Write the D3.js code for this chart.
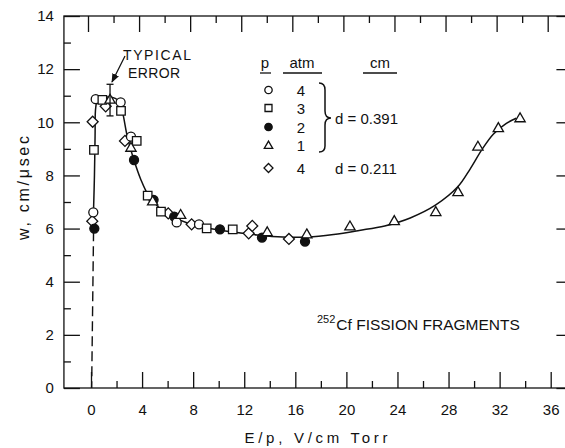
<!DOCTYPE html>
<html><head><meta charset="utf-8">
<script src="https://cdn.jsdelivr.net/npm/d3@7/dist/d3.min.js"></script>
<style>body{margin:0;background:#fff}svg{display:block}</style>
</head><body>
<svg id="c" width="565" height="448"></svg>
<script>
// ---- data ----
const xTicks = [0,4,8,12,16,20,24,28,32,36];
const xMinorTicks = [2,6,10,14,18,22,26,30,34];
const yTicks = [0,2,4,6,8,10,12,14];
const yMinorTicks = [1,3,5,7,9,11,13];

// p = 4 atm, d = 0.391 (open circles)
const circle4 = [[0.18,6.61],[0.37,10.87],[2.32,10.75],[3.13,9.46],[6.71,6.23],[8.46,6.16]];
// p = 3 atm, d = 0.391 (open squares)
const square3 = [[0.23,8.96],[0.89,10.84],[2.35,10.43],[3.58,9.3],[4.44,7.24],[5.48,6.64],[9.06,6.01],[11.1,5.97]];
// p = 2 atm, d = 0.391 (filled circles)
const filled2 = [[0.26,6.0],[3.37,8.58],[4.9,7.08],[6.52,6.45],[10.1,5.97],[13.39,5.66],[16.76,5.51]];
// p = 1 atm, d = 0.391 (open triangles)
const triangle1 = [[1.49,10.87],[3.13,9.06],[4.83,7.04],[7.02,6.53],[13.8,5.88],[16.9,5.8],[20.28,6.1],[23.75,6.3],[27.0,6.64],[28.74,7.39],[30.3,9.1],[31.9,9.8],[33.6,10.17]];
// p = 4 atm, d = 0.211 (open diamonds)
const diamond4 = [[0.1,6.28],[0.13,10.02],[1.15,10.6],[2.66,9.3],[6.05,6.57],[7.88,6.16],[12.35,5.82],[12.63,6.1],[15.5,5.61]];

// hand-drawn fitted curve
const fitCurve = [[0.2,6.7],[0.27,8.0],[0.32,9.5],[0.37,10.55],[0.55,10.88],[1.2,10.95],[1.9,10.9],[2.3,10.75],[2.55,10.2],[2.85,9.45],[3.35,8.6],[3.9,7.85],[4.5,7.25],[5.3,6.8],[6.3,6.47],[7.5,6.22],[9,6.03],[11,5.88],[13,5.76],[15,5.68],[17,5.68],[19,5.78],[21,5.93],[23,6.1],[25,6.4],[27,6.89],[28.74,7.58],[29.7,8.25],[30.6,8.96],[31.5,9.55],[32.5,9.95],[33.3,10.15]];
// dashed extrapolation to the origin
const dashLine = [[0.2,5.9],[0.05,0]];
// typical error bar
const errorBar = {x:1.49, lo:10.24, hi:11.43};

const legendRows = [
  {sym:"circle", fill:"#fff", p:"4"},
  {sym:"square", fill:"#fff", p:"3"},
  {sym:"circle", fill:"#111", p:"2"},
  {sym:"triangle", fill:"#fff", p:"1"},
  {sym:"diamond", fill:"#fff", p:"4"}
];

// ---- drawing ----
const svg = d3.select("#c");
const FONT = "'Liberation Sans', Arial, sans-serif";
const INK = "#111";

const x = d3.scaleLinear().domain([0,36]).range([91,550.7]);
const y = d3.scaleLinear().domain([0,14]).range([388,16]);
const xLo = -2.12, xHi = 37.7;

// frame
svg.append("rect").attr("x",x(xLo)).attr("y",y(14))
  .attr("width",x(xHi)-x(xLo)).attr("height",y(0)-y(14))
  .attr("fill","none").attr("stroke",INK).attr("stroke-width",1.3);

function styleAxis(g){
  g.select(".domain").remove();
  g.selectAll(".tick line").attr("stroke",INK).attr("stroke-width",1.3);
  g.selectAll("text").attr("font-family",FONT).attr("font-size",15).attr("fill",INK);
}
// bottom
svg.append("g").attr("transform",`translate(0,${y(0)})`)
  .call(d3.axisBottom(x).tickValues(xTicks).tickSizeInner(-16).tickSizeOuter(0).tickPadding(16).tickFormat(d3.format("d")))
  .call(styleAxis);
svg.append("g").attr("transform",`translate(0,${y(0)})`)
  .call(d3.axisBottom(x).tickValues(xMinorTicks).tickSizeInner(-7).tickSizeOuter(0).tickFormat(""))
  .call(styleAxis);
// top
svg.append("g").attr("transform",`translate(-3,${y(14)})`)
  .call(d3.axisTop(x).tickValues(xTicks).tickSizeInner(-16).tickSizeOuter(0).tickFormat(""))
  .call(styleAxis);
svg.append("g").attr("transform",`translate(-3,${y(14)})`)
  .call(d3.axisTop(x).tickValues(xMinorTicks).tickSizeInner(-7).tickSizeOuter(0).tickFormat(""))
  .call(styleAxis);
// left
svg.append("g").attr("transform",`translate(${x(xLo)},0)`)
  .call(d3.axisLeft(y).tickValues(yTicks).tickSizeInner(-16).tickSizeOuter(0).tickPadding(10).tickFormat(d3.format("d")))
  .call(styleAxis);
svg.append("g").attr("transform",`translate(${x(xLo)},0)`)
  .call(d3.axisLeft(y).tickValues(yMinorTicks).tickSizeInner(-7).tickSizeOuter(0).tickFormat(""))
  .call(styleAxis);
// right
svg.append("g").attr("transform",`translate(${x(xHi)},0)`)
  .call(d3.axisRight(y).tickValues(yTicks).tickSizeInner(-16).tickSizeOuter(0).tickFormat(""))
  .call(styleAxis);
svg.append("g").attr("transform",`translate(${x(xHi)},0)`)
  .call(d3.axisRight(y).tickValues(yMinorTicks).tickSizeInner(-7).tickSizeOuter(0).tickFormat(""))
  .call(styleAxis);

// axis titles
svg.append("text").attr("x",316).attr("y",443).attr("text-anchor","middle")
  .attr("font-family",FONT).attr("font-size",15).attr("fill",INK)
  .attr("textLength",143).attr("lengthAdjust","spacing").text("E/p, V/cm Torr");
svg.append("text").attr("transform","translate(29,188) rotate(-90)").attr("text-anchor","middle")
  .attr("font-family",FONT).attr("font-size",16).attr("fill",INK)
  .attr("textLength",104).attr("lengthAdjust","spacing").text("w, cm/\u03bcsec");

// curves
const line = d3.line().x(d=>x(d[0])).y(d=>y(d[1])).curve(d3.curveCatmullRom.alpha(0.5));
svg.append("path").attr("d",line(fitCurve)).attr("fill","none").attr("stroke",INK).attr("stroke-width",1.5);
svg.append("path").attr("d",d3.line().x(d=>x(d[0])).y(d=>y(d[1]))(dashLine))
  .attr("fill","none").attr("stroke",INK).attr("stroke-width",1.4).attr("stroke-dasharray","10,5");

// markers
const symTypes = {circle:d3.symbolCircle, square:d3.symbolSquare, triangle:d3.symbolTriangle, diamond:d3.symbolSquare};
const symSize = {circle:64, square:72, triangle:46, diamond:60};
function drawSym(g, sym, fill, cx, cy, scale){
  const p = g.append("path")
    .attr("d", d3.symbol().type(symTypes[sym]).size(symSize[sym]*scale*scale)())
    .attr("fill",fill).attr("stroke",INK).attr("stroke-width",1.3);
  p.attr("transform", `translate(${cx},${cy})` + (sym==="diamond"?" rotate(45)":"") + (sym==="triangle"?" translate(0,1)":""));
  return p;
}
const gm = svg.append("g");
const seriesList = [
  {data:diamond4, sym:"diamond", fill:"#fff"},
  {data:filled2, sym:"circle", fill:"#111"},
  {data:circle4, sym:"circle", fill:"#fff"},
  {data:square3, sym:"square", fill:"#fff"},
  {data:triangle1, sym:"triangle", fill:"#fff"}
];
seriesList.forEach(s=>s.data.forEach(d=>drawSym(gm, s.sym, s.fill, x(d[0]), y(d[1]), 1)));

// error bar
const eb = svg.append("g").attr("stroke",INK).attr("stroke-width",1.3);
eb.append("line").attr("x1",x(errorBar.x)).attr("x2",x(errorBar.x)).attr("y1",y(errorBar.lo)).attr("y2",y(errorBar.hi));
[errorBar.lo, errorBar.hi].forEach(v=>eb.append("line").attr("x1",x(errorBar.x)-3.5).attr("x2",x(errorBar.x)+3.5).attr("y1",y(v)).attr("y2",y(v)));

// typical error annotation
const ann = svg.append("g").attr("font-family",FONT).attr("font-size",14).attr("fill",INK).attr("text-anchor","middle");
ann.append("text").attr("x",157).attr("y",60).attr("textLength",68).attr("lengthAdjust","spacing").text("TYPICAL");
ann.append("text").attr("x",154).attr("y",78).attr("textLength",52).attr("lengthAdjust","spacing").text("ERROR");
svg.append("defs").append("marker").attr("id","ah").attr("viewBox","0 0 10 10").attr("refX",9).attr("refY",5)
  .attr("markerWidth",7).attr("markerHeight",7).attr("orient","auto")
  .append("path").attr("d","M0,1 L10,5 L0,9 Z").attr("fill",INK);
svg.append("line").attr("x1",125).attr("y1",56).attr("x2",112).attr("y2",82)
  .attr("stroke",INK).attr("stroke-width",1.3).attr("marker-end","url(#ah)");

// legend
const lg = svg.append("g").attr("font-family",FONT).attr("font-size",15).attr("fill",INK);
[["p",265],["atm",302],["cm",380]].forEach(([t,cx])=>{
  lg.append("text").attr("x",cx).attr("y",68).attr("text-anchor","middle").text(t);
});
[[260,271],[283,322],[363,397]].forEach(([a,b])=>{
  lg.append("line").attr("x1",a).attr("x2",b).attr("y1",73).attr("y2",73).attr("stroke",INK).attr("stroke-width",1.3);
});
const rowY = [90,108,127,145,168];
legendRows.forEach((r,i)=>{
  drawSym(lg, r.sym, r.fill, 268.5, rowY[i], 0.82);
  lg.append("text").attr("x",301).attr("y",rowY[i]+5.5).attr("text-anchor","middle").text(r.p);
});
lg.append("path").attr("d","M319,83 Q325,83 325,90 L325,111 Q325,118 331,118 Q325,118 325,125 L325,146 Q325,152 319,152")
  .attr("fill","none").attr("stroke",INK).attr("stroke-width",1.5);
lg.append("text").attr("x",335).attr("y",123.5).text("d = 0.391");
lg.append("text").attr("x",335).attr("y",173.5).text("d = 0.211");

// source label
const src = svg.append("text").attr("x",317).attr("y",330).attr("font-family",FONT).attr("fill",INK);
src.append("tspan").attr("font-size",11).attr("dy",-7).text("252");
src.append("tspan").attr("font-size",15.5).attr("dy",7).attr("dx",1).text("Cf FISSION FRAGMENTS");
</script>
</body></html>
